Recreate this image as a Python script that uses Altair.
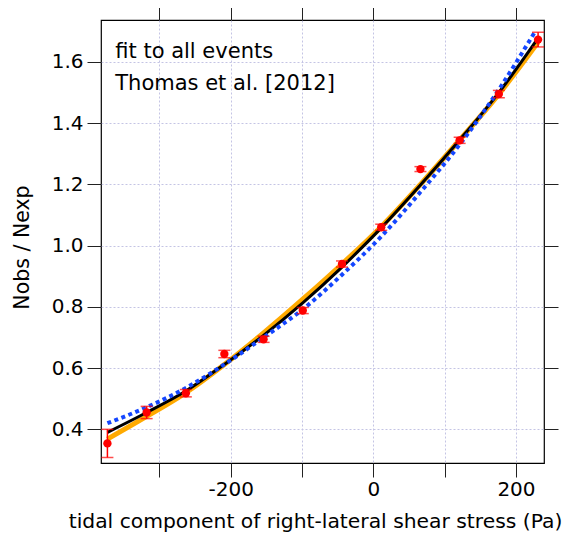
import altair as alt
import pandas as pd

# ---- data ----
x_bins = [-373, -318, -263, -209, -154, -99, -44, 11, 66, 121, 176, 231]
nobs_nexp = [0.354, 0.455, 0.518, 0.646, 0.694, 0.788, 0.940, 1.060, 1.250, 1.344, 1.495, 1.673]
err = [0.046, 0.020, 0.012, 0.012, 0.010, 0.010, 0.010, 0.010, 0.008, 0.010, 0.012, 0.024]

curve_x = [-373, -318, -263, -209, -154, -99, -44, 11, 66, 121, 176, 231]
fit_all = [0.390, 0.455, 0.525, 0.612, 0.707, 0.813, 0.930, 1.058, 1.198, 1.345, 1.500, 1.678]
thomas = [0.368, 0.442, 0.520, 0.612, 0.715, 0.825, 0.940, 1.062, 1.200, 1.345, 1.495, 1.664]
blue_x = [-373, -318, -263, -209, -154, -99, -44, 11, 66, 121, 176, 227]
blue_y = [0.420, 0.472, 0.535, 0.612, 0.700, 0.792, 0.905, 1.030, 1.175, 1.330, 1.510, 1.700]

notes = ["fit to all events", "Thomas et al. [2012]"]
note_x = [-362, -362]
note_y = [1.612, 1.508]

x_ticks = [-300, -200, -100, 0, 100, 200]
y_ticks = [0.4, 0.6, 0.8, 1.0, 1.2, 1.4, 1.6]
x_domain = [-382, 239.3]
y_domain = [0.290, 1.737]

FONT = "DejaVu Sans"

pts = pd.DataFrame({"x": x_bins, "y": nobs_nexp, "e": err})
pts["lo"] = pts["y"] - pts["e"]
pts["hi"] = pts["y"] + pts["e"]
fit_df = pd.DataFrame({"x": curve_x, "y": fit_all})
th_df = pd.DataFrame({"x": curve_x, "y": thomas})
bl_df = pd.DataFrame({"x": blue_x, "y": blue_y})
note_df = pd.DataFrame({"t": notes, "x": note_x, "y": note_y})

xs = alt.Scale(domain=x_domain, nice=False, zero=False)
ys = alt.Scale(domain=y_domain, nice=False, zero=False)

x_axis = alt.Axis(
    values=x_ticks,
    labelExpr="datum.value % 200 === 0 ? '' + datum.value : ''",
    tickSize=14, tickColor="#222", tickWidth=1,
    labelPadding=2, labelFontSize=20, labelFont=FONT, labelColor="black",
    grid=True, gridDash=[2, 2], gridColor="#c4c4e4", gridWidth=1,
    domain=False,
    title="tidal component of right-lateral shear stress (Pa)",
    titleFont=FONT, titleFontSize=20.3, titleFontWeight="normal", titleColor="black",
    titleX=214, titleY=64, titleBaseline="alphabetic", titleAlign="center",
)
y_axis = alt.Axis(
    values=y_ticks, format=".1f",
    tickSize=14, tickColor="#222", tickWidth=1,
    labelPadding=4, labelFontSize=20, labelFont=FONT, labelColor="black",
    grid=True, gridDash=[2, 2], gridColor="#c4c4e4", gridWidth=1,
    domain=False,
    title="Nobs / Nexp",
    titleFont=FONT, titleFontSize=20.5, titleFontWeight="normal", titleColor="black",
    titleX=-73, titleY=227, titleBaseline="alphabetic", titleAlign="center", titleAngle=270,
)

X = alt.X("x:Q", scale=xs, axis=x_axis)
Y = alt.Y("y:Q", scale=ys, axis=y_axis)
Xp = alt.X("x:Q", scale=xs)
Yp = alt.Y("y:Q", scale=ys)

orange = alt.Chart(th_df).mark_line(color="#ffaa00", strokeWidth=5, interpolate="monotone").encode(x=X, y=Y)
black = alt.Chart(fit_df).mark_line(color="black", strokeWidth=3, interpolate="monotone").encode(x=Xp, y=Yp)
bluel = alt.Chart(bl_df).mark_line(color="#1446ff", strokeWidth=4, strokeDash=[4, 3.5],
                                   strokeCap="butt", interpolate="monotone").encode(x=Xp, y=Yp)
ebar = alt.Chart(pts).mark_rule(color="#ff0000", strokeWidth=1.5).encode(
    x=Xp, y=alt.Y("lo:Q", scale=ys), y2="hi:Q")
cap_lo = alt.Chart(pts).mark_tick(color="#ff0000", orient="horizontal", size=12, thickness=1.5).encode(
    x=Xp, y=alt.Y("lo:Q", scale=ys))
cap_hi = alt.Chart(pts).mark_tick(color="#ff0000", orient="horizontal", size=12, thickness=1.5).encode(
    x=Xp, y=alt.Y("hi:Q", scale=ys))
dots = alt.Chart(pts).mark_circle(color="#ff0000", size=70, opacity=1).encode(x=Xp, y=Yp)
text = alt.Chart(note_df).mark_text(align="left", baseline="alphabetic", font=FONT,
                                    fontSize=21, color="black").encode(
    x=alt.X("x:Q", scale=xs), y=alt.Y("y:Q", scale=ys), text="t:N")

main = alt.layer(orange, black, bluel, ebar, cap_lo, cap_hi, dots, text)

mirror = alt.Chart(pts).mark_point(opacity=0).encode(
    x=alt.X("x:Q", scale=xs, axis=alt.Axis(orient="top", values=x_ticks, labels=False,
                                            tickSize=14, tickColor="#222", grid=False,
                                            domain=False, title=None)),
    y=alt.Y("y:Q", scale=ys, axis=alt.Axis(orient="right", values=y_ticks, labels=False,
                                            tickSize=14, tickColor="#222", grid=False,
                                            domain=False, title=None)),
)

chart = alt.layer(main, mirror).resolve_scale(x="independent", y="independent").properties(
    width=443, height=443,
    autosize=alt.AutoSizeParams(type="none"),
    padding={"left": 93, "top": 12, "right": 27, "bottom": 70},
).configure_view(stroke="black", strokeWidth=1.2)

chart.save("out.html", embed_options={"renderer": "svg", "actions": False})
